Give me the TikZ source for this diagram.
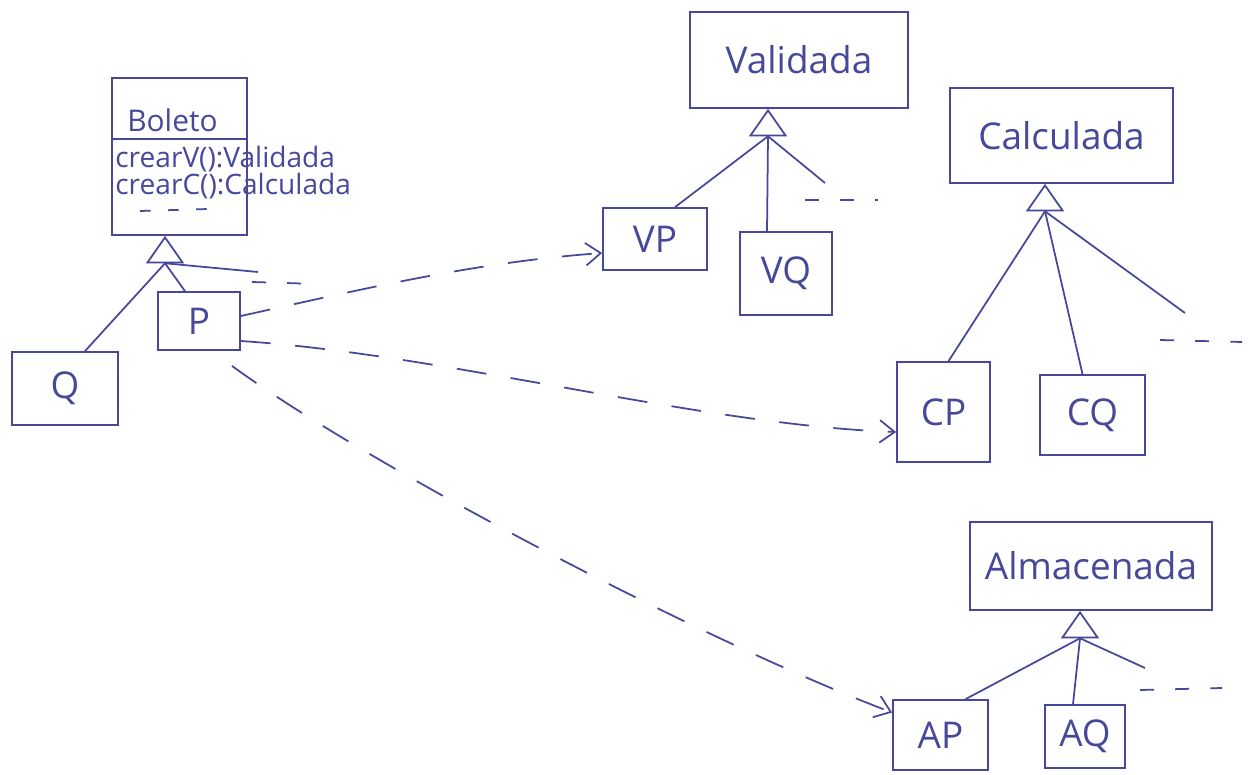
\documentclass[tikz,border=0pt]{standalone}
\usepackage{fontspec}
\setmainfont{Open Sans}
\usetikzlibrary{shapes.geometric,arrows.meta}
\definecolor{ink}{RGB}{72,72,155}
\begin{document}
\begin{tikzpicture}[x=0.02cm,y=-0.02cm,
  cls/.style={draw=ink, line width=1pt, inner sep=0pt, text=ink,
    font=\fontsize{21}{24}\selectfont},
  gen/.style={draw=ink, line width=1pt, isosceles triangle,
    shape border rotate=90, isosceles triangle apex angle=70,
    inner sep=0pt, minimum height=0.5cm, anchor=apex},
  link/.style={draw=ink, line width=1pt},
  more/.style={draw=ink, line width=1pt, dash pattern=on 8pt off 12pt},
  use/.style={draw=ink, line width=1pt, dash pattern=on 17pt off 14pt,
    -{Straight Barb[length=3mm,width=4.5mm]}},
  member/.style={anchor=west, text=ink, inner sep=0pt}]

\fill[white] (0,0) rectangle (1250,774);
\useasboundingbox (0,0) rectangle (1250,774);

% Boleto with its subclasses
\node[cls, minimum width=2.7cm, minimum height=3.14cm] (boleto) at (179.5,156.5) {};
\node[member, font=\fontsize{17}{20}\selectfont] (bname) at (127,120) {Boleto};
\draw[link] ([yshift=-1.24cm]boleto.north west) -- ([yshift=-1.24cm]boleto.north east);
\node[member, anchor=north west, align=left, font=\fontsize{16}{15.5}\selectfont]
  (ops) at (115,146) {crearV():Validada\\crearC():Calculada};
\coordinate (m3a) at (140,211);
\coordinate (m3b) at (208,209);
\draw[more, dash pattern=on 6pt off 10pt] (m3a) -- (m3b);

\node[gen] (tB) at ([xshift=-0.29cm]boleto.south) {};
\node[cls, minimum width=2.12cm, minimum height=1.46cm] (Q) at (65,388.5) {Q};
\node[cls, minimum width=1.64cm, minimum height=1.16cm] (P) at (199,321) {P};
\coordinate (bEnd) at (258,272);
\coordinate (bDa) at (252,282);
\coordinate (bDb) at (318,284);
\draw[link] (tB.lower side) -- ([xshift=0.4cm]Q.north);
\draw[link] (tB.lower side) -- ([xshift=-0.28cm]P.north);
\draw[link] (tB.lower side) -- (bEnd);
\draw[more] (bDa) -- (bDb);

% Validada hierarchy
\node[cls, minimum width=4.36cm, minimum height=1.92cm] (val) at (799,60) {Validada};
\node[gen] (tV) at ([xshift=-0.62cm]val.south) {};
\node[cls, minimum width=2.08cm, minimum height=1.24cm] (VP) at (655,239) {VP};
\node[cls, minimum width=1.84cm, minimum height=1.66cm] (VQ) at (786,273.5) {VQ};
\coordinate (vEnd) at (825,183);
\coordinate (vDa) at (805,200);
\coordinate (vDb) at (878,200);
\draw[link] (tV.lower side) -- ([xshift=0.4cm]VP.north);
\draw[link] (tV.lower side) -- ([xshift=-0.38cm]VQ.north);
\draw[link] (tV.lower side) -- (vEnd);
\draw[more] (vDa) -- (vDb);

% Calculada hierarchy
\node[cls, minimum width=4.46cm, minimum height=1.9cm] (cal) at (1061.5,135.5) {Calculada};
\node[gen] (tC) at ([xshift=-0.33cm]cal.south) {};
\node[cls, minimum width=1.86cm, minimum height=2.0cm] (CP) at (943.5,412) {CP};
\node[cls, minimum width=2.1cm, minimum height=1.6cm] (CQ) at (1092.5,415) {CQ};
\coordinate (cEnd) at (1185,313);
\coordinate (cDa) at (1160,340);
\coordinate (cDb) at (1242,342);
\draw[link] (tC.lower side) -- ([xshift=0.1cm]CP.north);
\draw[link] (tC.lower side) -- ([xshift=-0.2cm]CQ.north);
\draw[link] (tC.lower side) -- (cEnd);
\draw[more] (cDa) -- (cDb);

% Almacenada hierarchy
\node[cls, minimum width=4.84cm, minimum height=1.76cm] (alm) at (1091,566) {Almacenada};
\node[gen] (tA) at ([xshift=-0.22cm]alm.south) {};
\node[cls, minimum width=1.9cm, minimum height=1.4cm] (AP) at (940.5,735) {AP};
\node[cls, minimum width=1.6cm, minimum height=1.26cm] (AQ) at (1085,736.5) {AQ};
\coordinate (aEnd) at (1145,668);
\coordinate (aDa) at (1140,690);
\coordinate (aDb) at (1222,688);
\draw[link] (tA.lower side) -- ([xshift=0.5cm]AP.north);
\draw[link] (tA.lower side) -- ([xshift=-0.24cm]AQ.north);
\draw[link] (tA.lower side) -- (aEnd);
\draw[more] (aDa) -- (aDb);

% P creates one product of each family
\draw[use] ([yshift=0.1cm]P.east) .. controls (380,285) and (480,262) .. ([yshift=-0.28cm]VP.west);
\draw[use] ([yshift=-0.4cm]P.east) .. controls (450,355) and (700,425) .. ([yshift=-0.4cm]CP.west);
\draw[use] ([xshift=0.66cm,yshift=-0.3cm]P.south) .. controls (360,460) and (700,640) .. ([yshift=0.45cm]AP.west);
\end{tikzpicture}
\end{document}
